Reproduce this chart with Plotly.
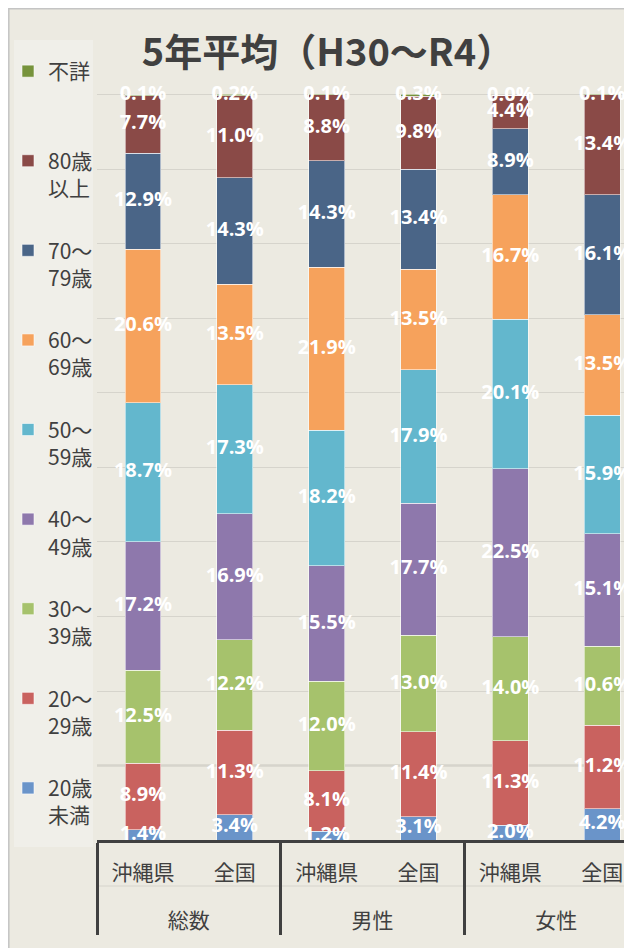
import plotly.graph_objects as go

# Age composition, 5-year average (H30-R4), percent
groups = ["総数", "総数", "男性", "男性", "女性", "女性"]
regions = ["沖縄県", "全国", "沖縄県", "全国", "沖縄県", "全国"]

age_names = ["20歳<br>未満", "20～<br>29歳", "30～<br>39歳", "40～<br>49歳", "50～<br>59歳",
             "60～<br>69歳", "70～<br>79歳", "80歳<br>以上", "不詳<br>\u3000"]

under20 = [1.4, 3.4, 1.2, 3.1, 2.0, 4.2]
age20s = [8.9, 11.3, 8.1, 11.4, 11.3, 11.2]
age30s = [12.5, 12.2, 12.0, 13.0, 14.0, 10.6]
age40s = [17.2, 16.9, 15.5, 17.7, 22.5, 15.1]
age50s = [18.7, 17.3, 18.2, 17.9, 20.1, 15.9]
age60s = [20.6, 13.5, 21.9, 13.5, 16.7, 13.5]
age70s = [12.9, 14.3, 14.3, 13.4, 8.9, 16.1]
age80plus = [7.7, 11.0, 8.8, 9.8, 4.4, 13.4]
unknown = [0.1, 0.2, 0.1, 0.3, 0.0, 0.1]

series = [under20, age20s, age30s, age40s, age50s, age60s, age70s, age80plus, unknown]
colors = ["#6A94C9", "#C9625F", "#A6C26C", "#8E78AC", "#63B7CD",
          "#F6A25C", "#4A6587", "#8A4A47", "#77933C"]

BG = "#ECEAE1"
TEXT = "#404040"
CJK = "'Noto Sans CJK JP', 'Noto Sans', sans-serif"

# the page body adds an 8px margin, so layout pixels are page pixels - 8
OFF = 8
W, H = 632, 948
L, R, B = 97 - OFF, 640 - OFF, 840 - OFF
PX_PER_PCT = (840 - 95) / 100
YMAX = 100.4
T = B - YMAX * PX_PER_PCT


def px_x(p):
    # page pixel -> paper x
    return (p - OFF - L) / (R - L)


def px_y(p):
    # page pixel -> paper y
    return (B - (p - OFF)) / (B - T)


fig = go.Figure()
# secondary (group) labels sit one blank line lower, as in the original
xcat = [["<br>" + g for g in groups], regions]

for k, (name, vals, col) in enumerate(zip(age_names, series, colors)):
    fig.add_trace(go.Bar(
        x=xcat, y=vals, name=name, legendgroup=name, legendrank=len(series) - k,
        marker=dict(color=col, line=dict(color="rgba(255,255,255,0.55)", width=1)),
        width=0.39,
        hoverinfo="skip",
    ))

# data labels centred in each segment
lx0, lx1, ly, lt = [], [], [], []
base = [0.0] * len(regions)
for vals in series:
    for i, v in enumerate(vals):
        lx0.append(xcat[0][i])
        lx1.append(regions[i])
        ly.append(base[i] + v / 2)
        lt.append(f"{v:.1f}%")
        base[i] += v

fig.add_trace(go.Scatter(
    x=[lx0, lx1], y=ly, text=lt, mode="text",
    textfont=dict(color="white", size=20, family="'Open Sans', sans-serif", weight="bold"),
    showlegend=False, hoverinfo="skip", cliponaxis=False,
))

shapes = [
    # outer chart frame
    dict(type="rect", xref="paper", yref="paper", layer="below",
         x0=px_x(OFF + 0.8), x1=px_x(700), y0=px_y(1000), y1=px_y(OFF + 0.8),
         fillcolor=BG, line=dict(color="#C4C4C4", width=1.5)),
    # legend panel
    dict(type="rect", xref="paper", yref="paper", layer="below",
         x0=px_x(14), x1=px_x(93), y0=px_y(847), y1=px_y(40),
         fillcolor="#F0EFE9", line=dict(width=0)),
    # darker 10% gridline
    dict(type="line", xref="paper", yref="y", layer="below",
         x0=0, x1=1, y0=10, y1=10, line=dict(color="#A8A69F", width=1.3)),
    # faint separator between label rows
    dict(type="line", xref="paper", yref="paper", layer="below",
         x0=0, x1=1, y0=px_y(886), y1=px_y(886), line=dict(color="#D6D4CC", width=1)),
]

fig.update_layout(
    width=W, height=H,
    margin=dict(l=L, r=W - R, t=T, b=H - B, autoexpand=False),
    paper_bgcolor="white",
    plot_bgcolor="rgba(0,0,0,0)",
    barmode="stack",
    font=dict(family=CJK, color=TEXT),
    title=dict(text="5年平均（H30～R4）", x=(328 - OFF) / W, xanchor="center",
               y=1 - 45 / H, yanchor="middle",
               font=dict(size=38, color=TEXT, family=CJK, weight="bold")),
    legend=dict(
        x=px_x(OFF), xanchor="left", y=px_y(51), yanchor="top",
        traceorder="grouped", tracegroupgap=32, valign="top",
        bgcolor="rgba(0,0,0,0)", font=dict(size=21, color=TEXT, family=CJK),
        itemwidth=30, maxheight=1000,
    ),
    shapes=shapes,
    hovermode=False,
)

fig.update_yaxes(range=[0, YMAX], tickvals=list(range(0, 101, 10)), showticklabels=False,
                 showgrid=True, gridcolor="#D6D4CC", gridwidth=1, zeroline=False, showline=False)
fig.update_xaxes(type="multicategory", range=[-0.5, 5.5 - (640 - 632) / 90],
                 showline=True, linecolor=TEXT, linewidth=3,
                 showdividers=True, dividercolor=TEXT, dividerwidth=3,
                 ticklabelstandoff=12,
                 tickfont=dict(size=21, color=TEXT, family=CJK), showgrid=False)

fig.write_html("out.html")
